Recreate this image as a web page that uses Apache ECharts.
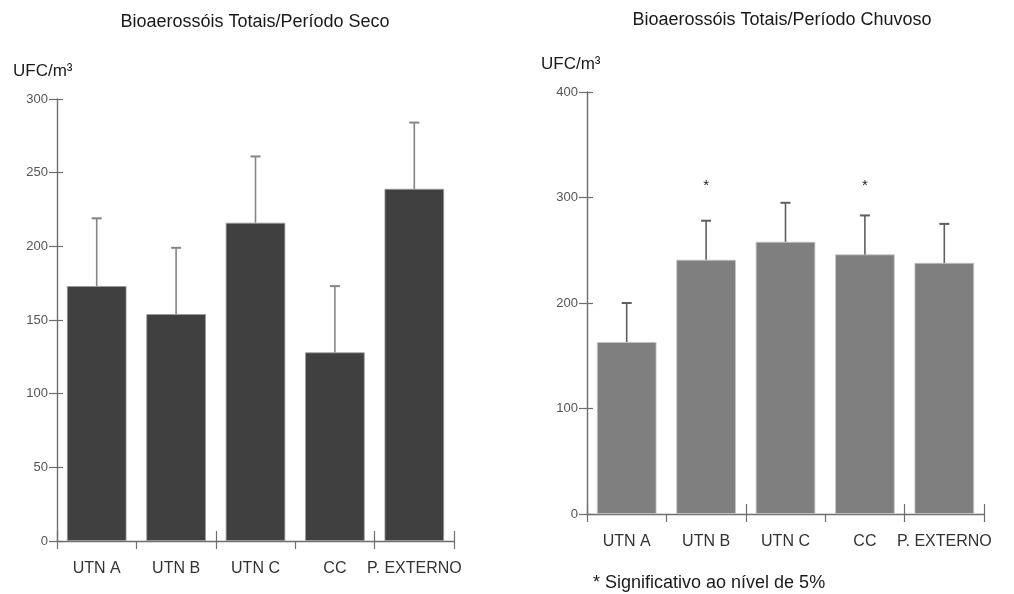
<!DOCTYPE html>
<html>
<head>
<meta charset="utf-8">
<script src="https://cdn.jsdelivr.net/npm/echarts@6/dist/echarts.min.js"></script>
<style>
  html, body { margin: 0; padding: 0; background: #fff; }
  #chart { width: 1014px; height: 594px; }
</style>
</head>
<body>
<div id="chart"></div>
<script>
// Sampling sites
const categories = ['UTN A', 'UTN B', 'UTN C', 'CC', 'P. EXTERNO'];

// Dry season: mean total bioaerosols (UFC/m³) and standard deviation
const dryMeans = [173, 154, 216, 128, 239];
const dryErrors = [46, 45, 45, 45, 45];

// Rainy season: mean total bioaerosols (UFC/m³) and standard deviation
const rainyMeans = [163, 241, 258, 246, 238];
const rainyErrors = [37, 37, 37, 37, 37];

// Sites flagged as significant at 5% in the rainy season
const rainySignificant = [false, true, false, true, false];

// Axis tick values
const dryTicks = { min: 0, max: 300, interval: 50 };
const rainyTicks = { min: 0, max: 400, interval: 100 };

const FONT = "'Liberation Sans', Arial, sans-serif";
const AXIS_COLOR = '#6e6e6e';

const chart = echarts.init(document.getElementById('chart'));

function xAxes(gridIndex, labelColor) {
  return [
    {
      type: 'category', gridIndex, data: categories, position: 'bottom',
      boundaryGap: true,
      axisLine: { lineStyle: { color: AXIS_COLOR, width: 1.4 } },
      axisTick: { show: true, length: 8, lineStyle: { color: AXIS_COLOR, width: 1.2 } },
      axisLabel: { interval: 0, color: labelColor, fontFamily: FONT, fontSize: 16, margin: 20 }
    },
    {
      type: 'category', gridIndex, data: categories, position: 'bottom',
      boundaryGap: true,
      axisLine: { show: false },
      axisTick: { show: true, inside: true, length: 10, lineStyle: { color: AXIS_COLOR, width: 1.2 } },
      axisLabel: { show: false }
    }
  ];
}

function yAxes(gridIndex, ticks) {
  return [
    {
      type: 'value', gridIndex, position: 'left',
      min: ticks.min, max: ticks.max, interval: ticks.interval,
      axisLine: { show: true, lineStyle: { color: AXIS_COLOR, width: 1.4 } },
      axisTick: { show: true, length: 8, lineStyle: { color: AXIS_COLOR, width: 1.2 } },
      axisLabel: { color: '#555', fontFamily: FONT, fontSize: 13, margin: 9 },
      splitLine: { show: false }
    },
    {
      type: 'value', gridIndex, position: 'left',
      min: ticks.min, max: ticks.max, interval: ticks.interval,
      axisLine: { show: false },
      axisTick: { show: true, inside: true, length: 6, lineStyle: { color: AXIS_COLOR, width: 1.2 } },
      axisLabel: { show: false },
      splitLine: { show: false }
    }
  ];
}

// Vertical error bar with a short cap, drawn above each bar
function errorBarSeries(xAxisIndex, yAxisIndex, means, errors, color) {
  return {
    type: 'custom', xAxisIndex, yAxisIndex, z: 5,
    data: means.map((m, i) => [i, m, errors[i]]),
    encode: { x: 0, y: 1 },
    renderItem: function (params, api) {
      const i = api.value(0), m = api.value(1), e = api.value(2);
      const base = api.coord([i, m]);
      const top = api.coord([i, m + e]);
      const capHalf = 5;
      const style = { stroke: color, lineWidth: 1.6 };
      return {
        type: 'group',
        children: [
          { type: 'line', shape: { x1: base[0], y1: base[1], x2: top[0], y2: top[1] }, style },
          { type: 'line', shape: { x1: top[0] - capHalf, y1: top[1], x2: top[0] + capHalf, y2: top[1] }, style: { stroke: color, lineWidth: 2 } }
        ]
      };
    }
  };
}

// Asterisk markers for significant sites
const starLevel = 311;
const starSeries = {
  type: 'custom', xAxisIndex: 2, yAxisIndex: 2, z: 6,
  data: rainySignificant.map((s, i) => s ? [i, starLevel] : null).filter(d => d),
  encode: { x: 0, y: 1 },
  renderItem: function (params, api) {
    const p = api.coord([api.value(0), api.value(1)]);
    return {
      type: 'text',
      style: { x: p[0], y: p[1], text: '*', fill: '#222', font: '15px ' + FONT, textAlign: 'center', textVerticalAlign: 'middle' }
    };
  }
};

const textStyle = (size) => ({ fontFamily: FONT, fontSize: size, fontWeight: 'normal', color: '#1a1a1a' });

const option = {
  backgroundColor: '#ffffff',
  animation: false,
  title: [
    { text: 'Bioaerossóis Totais/Período Seco', left: 250, top: 8, textAlign: 'center', textStyle: textStyle(18) },
    { text: 'Bioaerossóis Totais/Período Chuvoso', left: 777, top: 6, textAlign: 'center', textStyle: textStyle(18) },
    { text: 'UFC/m³', left: 8, top: 58, textStyle: textStyle(17) },
    { text: 'UFC/m³', left: 536, top: 51, textStyle: textStyle(17) },
    { text: '* Significativo ao nível de 5%', left: 588, top: 569, textStyle: textStyle(18) }
  ],
  grid: [
    { left: 57, right: 560, top: 99, bottom: 53 },
    { left: 587, right: 30, top: 92, bottom: 80 }
  ],
  xAxis: [...xAxes(0, '#333'), ...xAxes(1, '#333')],
  yAxis: [...yAxes(0, dryTicks), ...yAxes(1, rainyTicks)],
  series: [
    {
      type: 'bar', xAxisIndex: 0, yAxisIndex: 0, data: dryMeans,
      barCategoryGap: '25%',
      itemStyle: { color: '#404040', borderColor: '#9a9a9a', borderWidth: 0.8 }
    },
    errorBarSeries(0, 0, dryMeans, dryErrors, '#858585'),
    {
      type: 'bar', xAxisIndex: 2, yAxisIndex: 2, data: rainyMeans,
      barCategoryGap: '25%',
      itemStyle: { color: '#7f7f7f', borderColor: '#c4c4c4', borderWidth: 0.8 }
    },
    errorBarSeries(2, 2, rainyMeans, rainyErrors, '#5e5e5e'),
    starSeries
  ]
};

chart.setOption(option);
</script>
</body>
</html>
